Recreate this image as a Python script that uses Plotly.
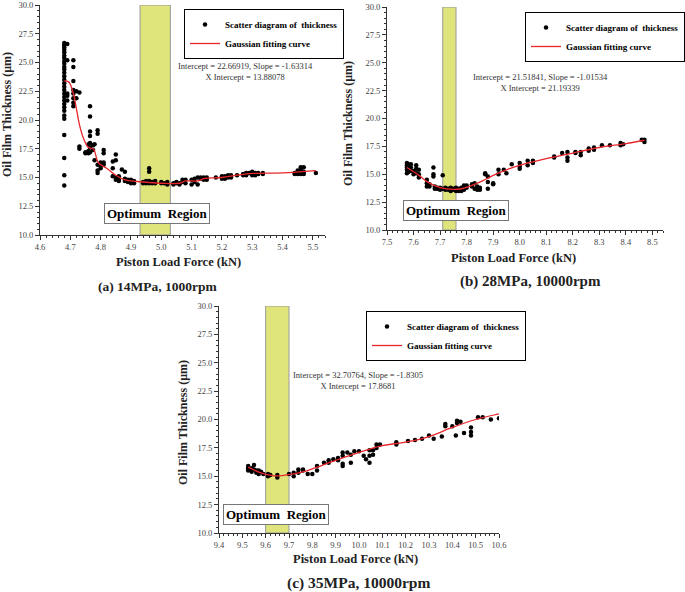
import plotly.graph_objects as go

W, H = 685, 592

# ---------------- data ----------------
# Panel (a) 14MPa, 1000rpm
A_COLS = [4.68, 4.69, 4.71, 4.72, 4.73, 4.75, 4.76, 4.765, 4.775, 4.78, 4.79, 4.80, 4.81,
          4.84, 4.85, 4.86, 4.87, 4.88, 4.89, 4.90, 4.91, 4.94, 4.95, 4.96, 4.97, 4.98,
          5.00, 5.01, 5.02, 5.04, 5.05, 5.06, 5.07, 5.08, 5.10, 5.11, 5.12, 5.13, 5.14,
          5.15, 5.18, 5.20, 5.21, 5.22, 5.23, 5.25, 5.27, 5.28, 5.29, 5.30, 5.31, 5.32,
          5.335, 5.44, 5.45, 5.46, 5.47, 5.51]
A_VALS = [
    [26.7, 26.5, 26.3, 26.1, 25.9, 25.6, 25.4, 25.1, 24.9, 24.6, 24.4, 24.1, 23.8, 23.5,
     23.2, 22.9, 22.6, 22.3, 22.0, 21.7, 21.4, 21.1, 20.8, 20.4, 20.1, 18.7, 16.7, 15.2, 14.3],
    [26.6, 25.2, 22.3, 22.1, 21.7],
    [25.2, 24.6, 23.4, 22.6, 22.3, 21.9, 21.5, 21.2],
    [22.5, 21.9],
    [22.4, 17.7, 17.5],
    [17.2, 17.1],
    [17.3, 17.1, 17.9],
    [21.2, 20.3, 19.0, 18.6, 18.0, 17.6, 17.2],
    [17.4, 17.8],
    [17.9, 16.5],
    [19.1, 18.8, 16.1, 15.6, 15.4],
    [16.3, 16.0, 15.8],
    [17.4, 17.1, 16.3, 16.1],
    [16.4, 15.8, 15.1],
    [17.0, 16.5, 15.0, 14.8],
    [15.1, 14.8, 14.7],
    [15.7],
    [15.5, 14.9, 14.7],
    [14.8, 14.6],
    [14.8, 14.6, 14.5],
    [14.7, 14.5],
    [14.6, 14.5],
    [14.7, 14.5],
    [15.8, 15.5, 14.7, 14.5],
    [14.6, 14.5],
    [14.7, 14.5],
    [14.6, 14.5],
    [14.5],
    [14.6, 14.4],
    [14.5, 14.4],
    [14.6, 14.5],
    [14.5, 14.4],
    [14.8, 14.6],
    [14.8, 14.5],
    [14.8, 14.4],
    [14.9, 14.6],
    [15.0, 14.4],
    [15.0, 14.9],
    [15.0, 14.8],
    [15.0, 14.8],
    [15.0],
    [15.1, 14.9],
    [15.1, 14.9],
    [15.2, 15.0],
    [15.2, 15.0],
    [15.2],
    [15.3, 15.2],
    [15.4, 15.2],
    [15.4],
    [15.5, 15.3, 15.2],
    [15.4, 15.2],
    [15.4, 15.3],
    [15.4, 15.3],
    [15.4, 15.3],
    [15.6, 15.3],
    [15.9, 15.7, 15.4, 15.3],
    [15.9, 15.5, 15.3],
    [15.4],
]
A_FIT_X = [4.68, 4.695, 4.71, 4.72, 4.73, 4.745, 4.76, 4.775, 4.78, 4.79, 4.80, 4.82, 4.85,
           4.88, 4.92, 5.00, 5.06, 5.08, 5.12, 5.14, 5.20, 5.25, 5.30, 5.40, 5.51]
A_FIT_Y = [23.4, 23.3, 22.3, 21.0, 19.6, 18.3, 17.6, 17.5, 17.3, 16.4, 16.1, 15.8, 15.2,
           14.8, 14.65, 14.5, 14.5, 14.7, 14.7, 14.9, 15.0, 15.2, 15.35, 15.4, 15.6]

# Panel (b) 28MPa, 10000rpm
B_COLS = [7.575, 7.58, 7.59, 7.60, 7.61, 7.62, 7.65, 7.66, 7.675, 7.68, 7.69, 7.70, 7.71,
          7.72, 7.73, 7.74, 7.75, 7.76, 7.77, 7.78, 7.79, 7.80, 7.82, 7.83, 7.84, 7.85,
          7.87, 7.88, 7.90, 7.92, 7.94, 7.95, 7.97, 8.00, 8.03, 8.05, 8.13, 8.16, 8.18,
          8.21, 8.23, 8.26, 8.28, 8.31, 8.34, 8.38, 8.39, 8.46, 8.47]
B_VALS = [
    [16.0, 15.8, 15.6, 15.4, 15.1],
    [15.9, 15.5, 15.2],
    [15.9, 15.6, 15.3],
    [15.3, 15.0],
    [15.8, 15.5, 15.1],
    [15.4, 15.0, 14.7],
    [14.5, 14.2, 13.9],
    [14.1, 13.9],
    [15.6, 15.0, 14.8],
    [13.9, 13.7],
    [13.8, 13.7],
    [13.8, 13.6],
    [14.9, 13.7],
    [13.8, 13.6],
    [13.7, 13.6],
    [13.8, 13.5],
    [13.7, 13.6],
    [13.8, 13.5],
    [13.7, 13.5],
    [13.8, 13.5],
    [14.0, 13.6],
    [14.0, 13.8],
    [14.1, 13.9],
    [14.2, 13.7],
    [13.9, 13.6],
    [13.8, 13.6],
    [15.1, 15.0],
    [14.8, 14.3, 13.7],
    [14.2, 14.1],
    [15.4, 15.0],
    [15.4],
    [15.1],
    [15.9],
    [16.0, 15.7, 15.5],
    [16.2, 15.8],
    [16.2, 16.0],
    [16.6, 16.5],
    [16.9],
    [17.0, 16.5, 16.2],
    [17.0, 16.9],
    [17.0, 16.7],
    [17.3, 17.1],
    [17.4, 17.2],
    [17.6],
    [17.6],
    [17.8, 17.6],
    [17.7],
    [18.1],
    [18.1, 17.9],
]
B_FIT_X = [7.575, 7.62, 7.66, 7.70, 7.75, 7.78, 7.82, 7.86, 7.90, 7.95, 8.00, 8.10, 8.20,
           8.30, 8.40, 8.47]
B_FIT_Y = [15.6, 14.9, 14.2, 13.8, 13.65, 13.7, 14.0, 14.4, 14.9, 15.4, 15.8, 16.4, 16.9,
           17.4, 17.75, 18.05]

# Panel (c) 35MPa, 10000rpm
C_COLS = [9.525, 9.54, 9.55, 9.56, 9.57, 9.58, 9.59, 9.61, 9.62, 9.65, 9.70, 9.72, 9.74,
          9.76, 9.78, 9.80, 9.82, 9.85, 9.87, 9.89, 9.91, 9.93, 9.95, 9.965, 9.98, 10.00,
          10.02, 10.03, 10.045, 10.06, 10.075, 10.09, 10.16, 10.21, 10.24, 10.27, 10.30,
          10.32, 10.355, 10.37, 10.40, 10.415, 10.42, 10.435, 10.45, 10.48, 10.51, 10.53,
          10.565, 10.60]
C_VALS = [
    [15.9, 15.7, 15.5],
    [15.7, 15.4],
    [16.0, 15.6],
    [15.5, 15.3],
    [15.5, 15.2],
    [15.4],
    [15.2],
    [15.2, 15.0],
    [15.1],
    [15.1, 14.9],
    [15.2],
    [15.3, 15.0],
    [15.6, 15.3],
    [15.6, 15.5],
    [15.2],
    [15.2],
    [15.9, 15.5],
    [16.2],
    [16.4, 16.2],
    [16.5],
    [16.6, 16.4],
    [17.1, 16.8, 16.1, 15.9],
    [17.1],
    [16.9, 16.2],
    [17.2],
    [17.2],
    [16.8],
    [16.5],
    [17.3, 16.8, 16.2],
    [17.3, 16.9],
    [17.8, 17.5],
    [17.8],
    [18.0, 17.8],
    [18.1],
    [18.2],
    [18.3],
    [18.6],
    [18.3],
    [18.5],
    [19.6, 19.4],
    [19.4],
    [18.6],
    [19.9, 19.7],
    [19.8],
    [18.8],
    [19.3, 18.9, 18.6],
    [20.2],
    [20.2],
    [20.0],
    [20.1],
]
C_FIT_X = [9.525, 9.58, 9.63, 9.67, 9.72, 9.78, 9.82, 9.90, 10.00, 10.10, 10.20, 10.30,
           10.40, 10.50, 10.60]
C_FIT_Y = [15.8, 15.3, 15.05, 15.05, 15.2, 15.5, 15.8, 16.4, 17.1, 17.7, 18.0, 18.5,
           19.3, 20.0, 20.5]

BANDS = [(4.93, 5.03), (7.71, 7.76), (9.60, 9.70)]
X_RANGES = [(4.6, 5.54), (7.5, 8.54), (9.4, 10.6)]
Y_RANGE = (10.0, 30.0)
FIT_TEXT = [
    "Intercept = 22.66919, Slope = -1.63314<br>X Intercept = 13.88078",
    "Intercept = 21.51841, Slope = -1.01534<br>X Intercept = 21.19339",
    "Intercept = 32.70764, Slope = -1.8305<br>X Intercept = 17.8681",
]
CAPTIONS = ["(a) 14MPa, 1000rpm", "(b) 28MPa, 10000rpm", "(c) 35MPa, 10000rpm"]
X_TITLE = "Piston Load Force (kN)"
Y_TITLE = "Oil Film Thickness (μm)"
LEG_SCATTER = "Scatter diagram of  thickness"
LEG_FIT = "Gaussian fitting curve"
OPT_TEXT = "Optimum  Region"


def flatten(cols, vals):
    xs, ys = [], []
    for c, v in zip(cols, vals):
        for y in v:
            xs.append(c)
            ys.append(y)
    return xs, ys


panels = [
    (flatten(A_COLS, A_VALS), (A_FIT_X, A_FIT_Y)),
    (flatten(B_COLS, B_VALS), (B_FIT_X, B_FIT_Y)),
    (flatten(C_COLS, C_VALS), (C_FIT_X, C_FIT_Y)),
]

# pixel layout boxes: (left, right, top, bottom)
BOX = [(40, 325, 5, 235), (387, 663, 7, 230), (219, 499, 306, 533)]
LEGEND_POS = [(184, 9), (525, 12), (366, 311)]
OPT_POS = [(157, 213.5), (456, 211), (276, 514)]
FIT_POS = [(245, 72), (540, 82.5), (358, 381)]
XTITLE_POS = [(178, 262), (513, 258), (355, 559)]
CAP_POS = [(158, 286), (530, 281), (358, 583)]
CAP_SIZE = [13.5, 15, 15.5]
YTITLE_POS = [(7, 115), (348, 123), (183, 422)]

SERIF = "Liberation Serif, Times New Roman, serif"

fig = go.Figure()
shapes, annotations = [], []
layout = {}


def note(text, px, py, size, color="#222", **kw):
    return dict(text=text, xref="paper", yref="paper", x=px / W, y=1 - py / H,
                xanchor="center", yanchor="middle", showarrow=False,
                font=dict(family=SERIF, size=size, color=color), **kw)


for i, (((sx, sy), (fx, fy))) in enumerate(panels):
    n = "" if i == 0 else str(i + 1)
    xa, ya = "x" + n, "y" + n
    leg = "legend" + n
    fig.add_trace(go.Scatter(x=sx, y=sy, mode="markers", xaxis=xa, yaxis=ya,
                             name="<b>" + LEG_SCATTER + "</b>", legend=leg,
                             marker=dict(color="black", size=4.5, symbol="circle")))
    fig.add_trace(go.Scatter(x=fx, y=fy, mode="lines", xaxis=xa, yaxis=ya,
                             name="<b>" + LEG_FIT + "</b>", legend=leg, line_shape="spline",
                             line=dict(color="#e8262b", width=1.3)))
    l, r, t, b = BOX[i]
    common = dict(showline=True, linecolor="#333", linewidth=1, ticks="outside",
                  ticklen=4, tickcolor="#333", showgrid=False, zeroline=False,
                  ticklabeloverflow="allow",
                  tickfont=dict(family=SERIF, size=8.5, color="#444"),
                  minor=dict(ticks="outside", ticklen=2, tickcolor="#333"))
    x0, x1 = X_RANGES[i]
    layout["xaxis" + n] = dict(domain=[l / W, r / W], anchor=ya, range=[x0, x1],
                               tick0=x0, dtick=0.1, tickformat=".1f", **common)
    layout["yaxis" + n] = dict(domain=[1 - b / H, 1 - t / H], anchor=xa,
                               range=list(Y_RANGE), tick0=10, dtick=2.5,
                               tickformat=".1f", **common)
    bx0, bx1 = BANDS[i]
    shapes.append(dict(type="rect", xref=xa, yref=ya, x0=bx0, x1=bx1,
                       y0=Y_RANGE[0], y1=Y_RANGE[1], layer="below",
                       fillcolor="#dfe57a", line=dict(color="#9a9a9a", width=1)))
    lx, ly = LEGEND_POS[i]
    layout[leg] = dict(x=lx / W, y=1 - ly / H, xanchor="left", yanchor="top",
                       bgcolor="white", bordercolor="black", borderwidth=1,
                       font=dict(family=SERIF, size=9, color="black"),
                       itemwidth=30, tracegroupgap=0)
    ox, oy = OPT_POS[i]
    annotations.append(note("<b>" + OPT_TEXT + "</b>", ox, oy, 13, "black",
                            bgcolor="white", bordercolor="#777", borderwidth=1,
                            borderpad=2))
    px_, py_ = FIT_POS[i]
    annotations.append(note(FIT_TEXT[i], px_, py_, 8.5, "#333"))
    tx, ty = XTITLE_POS[i]
    annotations.append(note("<b>" + X_TITLE + "</b>", tx, ty, 12.5))
    cx, cy = CAP_POS[i]
    annotations.append(note("<b>" + CAPTIONS[i] + "</b>", cx, cy, CAP_SIZE[i]))
    yx, yy = YTITLE_POS[i]
    annotations.append(note("<b>" + Y_TITLE + "</b>", yx, yy, 12, textangle=-90))

fig.update_layout(width=W, height=H,
                  margin=dict(l=0, r=0, t=0, b=0, autoexpand=False),
                  paper_bgcolor="white", plot_bgcolor="white",
                  shapes=shapes, annotations=annotations, **layout)
fig.write_html("out.html", config={"displayModeBar": False},
               post_script="document.body.style.margin='0';document.body.style.overflow='hidden';")
